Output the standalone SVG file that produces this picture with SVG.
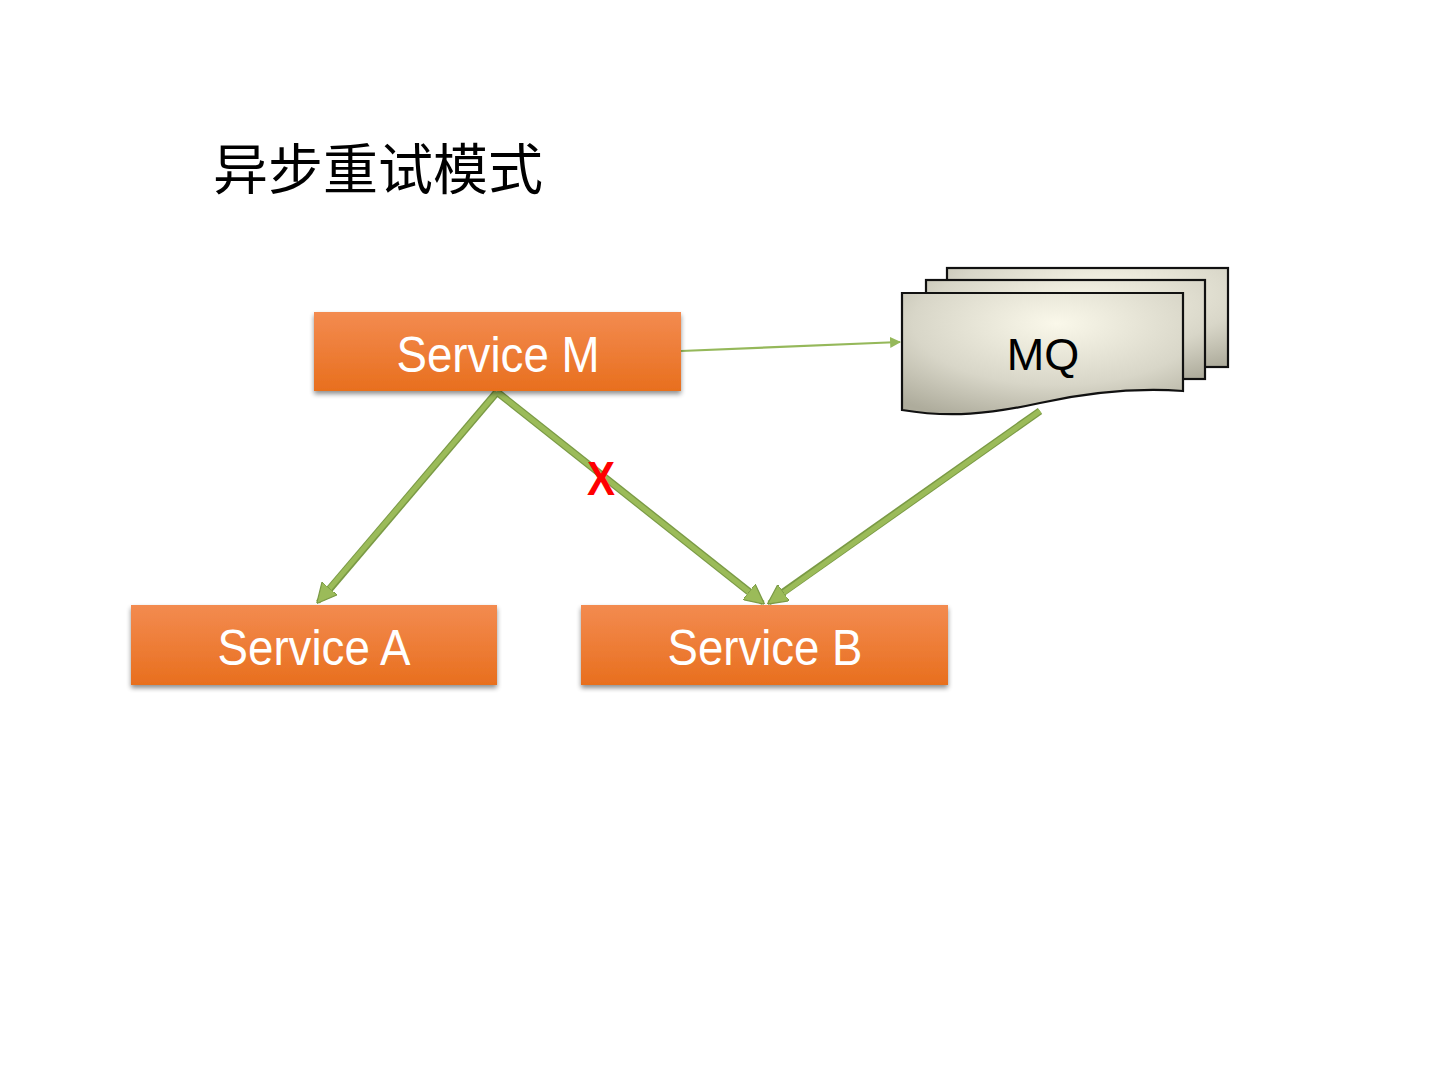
<svg xmlns="http://www.w3.org/2000/svg" width="1440" height="1080" viewBox="0 0 1440 1080">
<style>
.box{fill:url(#og);filter:url(#sh)}
.lbl{font-family:"Liberation Sans",Arial,sans-serif;font-size:50px;fill:#fff;text-anchor:middle}
.sheet{fill:url(#mg);stroke:#111;stroke-width:2.2}
.edge{stroke:#7A9A45;stroke-width:7.5;fill:none}
.thick{stroke:#9BBB59;stroke-width:5;fill:none;marker-end:url(#ah)}
.thin{stroke:#95B85A;stroke-width:2.2;fill:none;marker-end:url(#ahs)}
</style>
<defs>
<linearGradient id="og" x1="0" y1="0" x2="0" y2="1">
<stop offset="0" stop-color="#F38B50"/>
<stop offset="1" stop-color="#E86F1E"/>
</linearGradient>
<radialGradient id="mg" cx="0.55" cy="0.25" r="0.85">
<stop offset="0" stop-color="#FAF8EA"/>
<stop offset="0.6" stop-color="#D8D6C8"/>
<stop offset="1" stop-color="#AEAC9C"/>
</radialGradient>
<filter id="sh" x="-5%" y="-10%" width="110%" height="130%">
<feGaussianBlur in="SourceAlpha" stdDeviation="2.5"/>
<feOffset dx="0" dy="3" result="b"/>
<feComponentTransfer><feFuncA type="linear" slope="0.45"/></feComponentTransfer>
<feMerge><feMergeNode/><feMergeNode in="SourceGraphic"/></feMerge>
</filter>
<marker id="ah" viewBox="0 0 10 10" refX="9" refY="5" markerWidth="4" markerHeight="4" orient="auto" markerUnits="strokeWidth">
<path d="M0,0 L10,5 L0,10 Z" fill="#9BBB59" stroke="#7A9A45" stroke-width="0.6"/>
</marker>
<marker id="ahs" viewBox="0 0 10 10" refX="9" refY="5" markerWidth="5" markerHeight="5" orient="auto" markerUnits="strokeWidth">
<path d="M0,0 L10,5 L0,10 Z" fill="#95B85A"/>
</marker>
</defs>
<rect width="1440" height="1080" fill="#fff"/>
<text x="213" y="189" font-family="'Noto Sans CJK SC',sans-serif" font-size="55" fill="#000">异步重试模式</text>

<g id="connectors">
<line class="thin" x1="681" y1="351" x2="900" y2="342"/>
<polyline class="edge" points="497,392 322,598"/>
<polyline class="edge" points="497,392 757,598"/>
<line class="edge" x1="1040" y1="411" x2="775" y2="598"/>
<polyline class="thick" points="497,392 318,602"/>
<polyline class="thick" points="497,392 763,603"/>
<line class="thick" x1="1040" y1="411" x2="769" y2="603"/>
</g>

<g id="serviceM">
<rect class="box" x="314" y="312" width="367" height="79"/>
<text class="lbl" x="498" y="372" textLength="203" lengthAdjust="spacingAndGlyphs">Service M</text>
</g>
<g id="serviceA">
<rect class="box" x="131" y="605" width="366" height="80"/>
<text class="lbl" x="314" y="665" textLength="193" lengthAdjust="spacingAndGlyphs">Service A</text>
</g>
<g id="serviceB">
<rect class="box" x="581" y="605" width="367" height="80"/>
<text class="lbl" x="765" y="665" textLength="195" lengthAdjust="spacingAndGlyphs">Service B</text>
</g>
<g id="mq">
<rect class="sheet" x="947" y="268" width="281" height="99"/>
<rect class="sheet" x="926" y="280" width="279" height="99"/>
<path class="sheet" d="M902,293 H1183 V391 C1140,388 1090,392 1040,403 C990,414 950,418 902,410 Z"/>
<text x="1043" y="370" font-family="'Liberation Sans',Arial,sans-serif" font-size="45" fill="#000" text-anchor="middle">MQ</text>
</g>
<text x="601" y="495" font-family="'Liberation Sans',Arial,sans-serif" font-weight="bold" font-size="48" fill="#FF0000" text-anchor="middle" textLength="28" lengthAdjust="spacingAndGlyphs">X</text>
</svg>
